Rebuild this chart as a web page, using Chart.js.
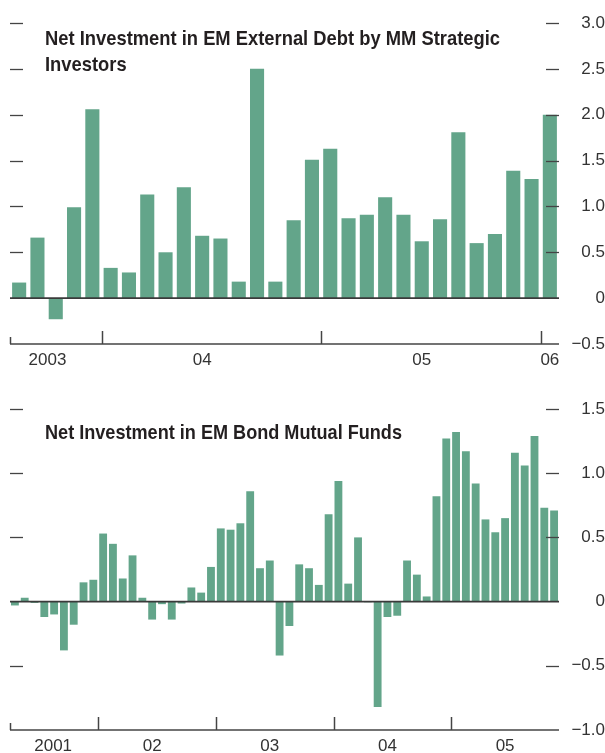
<!DOCTYPE html>
<html>
<head>
<meta charset="utf-8">
<script src="https://cdn.jsdelivr.net/npm/chart.js@4/dist/chart.umd.min.js"></script>
<style>
  html, body { margin: 0; padding: 0; background: #fff; }
  body { width: 605px; height: 753px; position: relative; overflow: hidden; }
  .panel { position: absolute; left: 0; width: 605px; }
  .title {
    position: absolute; left: 45px; margin: 0;
    font-family: "Liberation Sans", Arial, sans-serif;
    font-weight: bold; font-size: 21px; line-height: 26px; color: #231f20;
    white-space: nowrap; transform-origin: 0 0;
  }
  .title span { display: inline-block; }
  canvas { display: block; }
</style>
</head>
<body>
<div class="panel" style="top:0;height:375px;">
  <canvas id="c1" width="605" height="375"></canvas>
  <div class="title" data-w="455" style="top:25px;"><span>Net Investment in EM External Debt by MM Strategic</span><br><span>Investors</span></div>
</div>
<div class="panel" style="top:375px;height:378px;">
  <canvas id="c2" width="605" height="378"></canvas>
  <div class="title" data-w="357" style="top:44px;"><span>Net Investment in EM Bond Mutual Funds</span></div>
</div>
<script>
// ---------- Data: top panel (monthly, Aug 2003 – Jan 2006) ----------
const topMonths = [
  "2003-08","2003-09","2003-10","2003-11","2003-12",
  "2004-01","2004-02","2004-03","2004-04","2004-05","2004-06","2004-07","2004-08","2004-09","2004-10","2004-11","2004-12",
  "2005-01","2005-02","2005-03","2005-04","2005-05","2005-06","2005-07","2005-08","2005-09","2005-10","2005-11","2005-12",
  "2006-01"
];
const topValues = [
  0.17, 0.66, -0.23, 0.99, 2.06,
  0.33, 0.28, 1.13, 0.50, 1.21, 0.68, 0.65, 0.18, 2.50, 0.18, 0.85,
  1.51, 1.63, 0.87, 0.91, 1.10, 0.91, 0.62, 0.86, 1.81, 0.60, 0.70, 1.39, 1.30,
  2.00
];
const topYTicks = [-0.5, 0, 0.5, 1.0, 1.5, 2.0, 2.5, 3.0];
const topYTickLabels = ["\u22120.5", "0", "0.5", "1.0", "1.5", "2.0", "2.5", "3.0"];
const topYearLabels = ["2003", "04", "05", "06"];
const topYearLabelAt = [1.55, 10, 22, 29];       // month index where each label sits
const topYearBreaks = [-0.5, 4.5, 16.5, 28.5];   // month boundaries marked on the axis

// ---------- Data: bottom panel (monthly, Apr 2001 – Nov 2005) ----------
const bottomMonths = [
  "2001-04","2001-05","2001-06","2001-07","2001-08","2001-09","2001-10","2001-11","2001-12",
  "2002-01","2002-02","2002-03","2002-04","2002-05","2002-06","2002-07","2002-08","2002-09","2002-10","2002-11","2002-12",
  "2003-01","2003-02","2003-03","2003-04","2003-05","2003-06","2003-07","2003-08","2003-09","2003-10","2003-11","2003-12",
  "2004-01","2004-02","2004-03","2004-04","2004-05","2004-06","2004-07","2004-08","2004-09","2004-10","2004-11","2004-12",
  "2005-01","2005-02","2005-03","2005-04","2005-05","2005-06","2005-07","2005-08","2005-09","2005-10","2005-11"
];
const bottomValues = [
  -0.03, 0.03, -0.01, -0.12, -0.10, -0.38, -0.18, 0.15, 0.17,
  0.53, 0.45, 0.18, 0.36, 0.03, -0.14, -0.02, -0.14, -0.015, 0.11, 0.07, 0.27,
  0.57, 0.56, 0.61, 0.86, 0.26, 0.32, -0.42, -0.19, 0.29, 0.26, 0.13, 0.68,
  0.94, 0.14, 0.50, -0.005, -0.82, -0.12, -0.11, 0.32, 0.21, 0.04, 0.82, 1.27,
  1.32, 1.17, 0.92, 0.64, 0.54, 0.65, 1.16, 1.06, 1.29, 0.73, 0.71
];
const bottomYTicks = [-1.0, -0.5, 0, 0.5, 1.0, 1.5];
const bottomYTickLabels = ["\u22121.0", "\u22120.5", "0", "0.5", "1.0", "1.5"];
const bottomYearLabels = ["2001", "02", "03", "04", "05"];
const bottomYearLabelAt = [3.9, 14, 26, 38, 50];
const bottomYearBreaks = [-0.5, 8.5, 20.5, 32.5, 44.5];

// ---------- Styling ----------
const BAR = "#63a58a";
const INK = "#333333";
const LABEL_FONT = '17px "Liberation Sans", Arial, sans-serif';

// condense the titles to the width they occupy in the original
document.querySelectorAll(".title").forEach(el => {
  const w = el.querySelector("span").getBoundingClientRect().width;
  el.style.transform = "scaleX(" + (Number(el.dataset.w) / w) + ")";
});

const axisDeco = {
  id: "axisDeco",
  afterDatasetsDraw(chart, args, opts) {
    const ctx = chart.ctx, a = chart.chartArea, x = chart.scales.x, y = chart.scales.y;
    const line = (x1, y1, x2, y2) => { ctx.beginPath(); ctx.moveTo(x1, y1); ctx.lineTo(x2, y2); ctx.stroke(); };
    ctx.save();
    ctx.strokeStyle = "#444"; ctx.lineWidth = 1.3;
    y.ticks.forEach(t => {
      if (t.value === 0 || t.value === y.min) return;
      const py = Math.round(y.getPixelForValue(t.value)) + 0.5;
      line(a.left, py, a.left + 13, py);
      line(a.right - 13, py, a.right, py);
    });
    ctx.strokeStyle = "#3a3a3a"; ctx.lineWidth = 1.8;
    const y0 = y.getPixelForValue(0);
    line(a.left, y0, a.right, y0);
    ctx.strokeStyle = "#444"; ctx.lineWidth = 1.5;
    line(a.left, a.bottom, a.right, a.bottom);
    opts.breaks.forEach((b, i) => {
      const px = Math.round(x.getPixelForValue(b)) + 0.5;
      line(px, a.bottom, px, a.bottom - (i === 0 ? 7 : 13));
    });
    ctx.fillStyle = INK; ctx.font = LABEL_FONT;
    ctx.textAlign = "center"; ctx.textBaseline = "middle";
    opts.labels.forEach((l, i) => {
      ctx.fillText(l, x.getPixelForValue(opts.at[i]), a.bottom + 16);
    });
    ctx.restore();
  }
};

function makeChart(id, cats, vals, yTicks, yLabels, padTop, padBottom, barPct, deco) {
  return new Chart(document.getElementById(id), {
    type: "bar",
    data: {
      labels: cats,
      datasets: [{ data: vals, backgroundColor: BAR, borderWidth: 0,
                   categoryPercentage: 1.0, barPercentage: barPct }]
    },
    options: {
      responsive: false, animation: false, devicePixelRatio: 1,
      layout: { padding: { left: 10, top: padTop, bottom: padBottom, right: 0 } },
      plugins: { legend: { display: false }, tooltip: { enabled: false }, title: { display: false },
                 axisDeco: deco },
      scales: {
        x: { display: false, offset: true },
        y: {
          position: "right",
          min: yTicks[0], max: yTicks[yTicks.length - 1],
          afterBuildTicks: s => { s.ticks = yTicks.map(v => ({ value: v })); },
          afterFit: s => { s.width = 46; },
          grid: { display: false }, border: { display: false },
          ticks: {
            padding: 4, crossAlign: "far", color: INK,
            font: { family: '"Liberation Sans", Arial, sans-serif', size: 17 },
            callback: v => { const k = yTicks.indexOf(v); return k >= 0 ? yLabels[k] : ""; }
          }
        }
      }
    },
    plugins: [axisDeco]
  });
}

makeChart("c1", topMonths, topValues, topYTicks, topYTickLabels, 23, 31, 0.77,
  { breaks: topYearBreaks, labels: topYearLabels, at: topYearLabelAt });
makeChart("c2", bottomMonths, bottomValues, bottomYTicks, bottomYTickLabels, 34, 23, 0.8,
  { breaks: bottomYearBreaks, labels: bottomYearLabels, at: bottomYearLabelAt });
</script>
</body>
</html>
